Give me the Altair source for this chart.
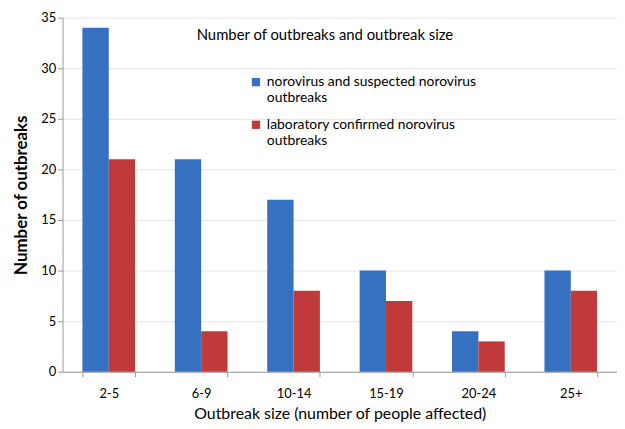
import altair as alt
import pandas as pd

categories = ["2-5", "6-9", "10-14", "15-19", "20-24", "25+"]
series_names = ["norovirus and suspected norovirus\noutbreaks",
                "laboratory confirmed norovirus\noutbreaks"]
suspected = [34, 21, 17, 10, 4, 10]
confirmed = [21, 4, 8, 7, 3, 8]

rows = []
for c, a, b in zip(categories, suspected, confirmed):
    rows.append({"size": c, "series": series_names[0], "count": a})
    rows.append({"size": c, "series": series_names[1], "count": b})
df = pd.DataFrame(rows)

FONT = "Lato"

chart = alt.Chart(df).mark_bar(stroke=None).encode(
    x=alt.X("size:N", sort=categories,
            scale=alt.Scale(paddingInner=0.43, paddingOuter=0.215),
            axis=alt.Axis(title="Outbreak size (number of people affected)",
                          labelAngle=0, tickBand="extent", labelPadding=11,
                          domainColor="#999999", tickColor="#999999",
                          tickSize=5, labelFontSize=13, titleFontSize=16,
                          titleFontWeight="normal", titlePadding=5,
                          labelColor="#000", titleColor="#000")),
    xOffset=alt.XOffset("series:N", sort=series_names,
                        scale=alt.Scale(paddingInner=0, paddingOuter=0)),
    y=alt.Y("count:Q", scale=alt.Scale(domain=[0, 35]),
            axis=alt.Axis(title="Number of outbreaks", values=[0, 5, 10, 15, 20, 25, 30, 35],
                          domainColor="#999999", tickColor="#999999", tickSize=5,
                          gridColor="#e4e4e4", labelFontSize=13, titleFontSize=17,
                          titleFontWeight="bold", titlePadding=10,
                          labelColor="#000", titleColor="#000")),
    color=alt.Color("series:N", sort=series_names,
                    scale=alt.Scale(domain=series_names, range=["#3670C0", "#C0393B"]),
                    legend=alt.Legend(title=None, orient="none", legendX=188, legendY=58,
                                      labelExpr="split(datum.label, '\\n')",
                                      symbolType="square", symbolSize=70,
                                      labelFontSize=14, labelColor="#000",
                                      labelLimit=400, rowPadding=13,
                                      symbolOffset=0)),
).properties(
    width=559, height=357,
    title=alt.TitleParams("Number of outbreaks and outbreak size", anchor="middle",
                          dy=36, dx=-15, fontSize=15, fontWeight="normal", color="#000"),
    autosize=alt.AutoSizeParams(type="none"),
    padding={"left": 55, "top": 8, "right": 0, "bottom": 56},
).configure(font=FONT).configure_view(stroke=None)

chart.save("out.html", embed_options={"renderer": "svg", "actions": False})
